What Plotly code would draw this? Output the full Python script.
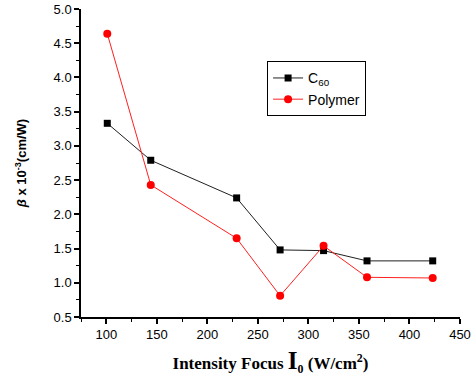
import plotly.graph_objects as go

intensity = [101, 144, 229, 272, 315, 358, 423]
c60 = [3.33, 2.79, 2.24, 1.48, 1.47, 1.32, 1.32]
polymer = [4.64, 2.43, 1.65, 0.81, 1.54, 1.08, 1.07]

x_ticks = [100, 150, 200, 250, 300, 350, 400, 450]
y_ticks = [0.5, 1.0, 1.5, 2.0, 2.5, 3.0, 3.5, 4.0, 4.5, 5.0]

fig = go.Figure()
fig.add_trace(go.Scatter(
    x=intensity, y=c60, mode="lines+markers", name="C<sub>60</sub>",
    line=dict(color="#202020", width=1),
    marker=dict(symbol="square", size=7, color="black"),
))
fig.add_trace(go.Scatter(
    x=intensity, y=polymer, mode="lines+markers", name="Polymer",
    line=dict(color="#ff2020", width=1),
    marker=dict(symbol="circle", size=8, color="#ff0000"),
))

fig.update_layout(
    width=472, height=385,
    margin=dict(l=81, r=12, t=9, b=68, autoexpand=False),
    paper_bgcolor="white", plot_bgcolor="white",
    font=dict(family="Liberation Sans, Arial", size=13, color="black"),
    showlegend=True,
    legend=dict(
        x=0.491, y=0.83, xanchor="left", yanchor="top",
        bordercolor="black", borderwidth=1, bgcolor="white",
        font=dict(family="Liberation Sans, Arial", size=14, color="black"),
        tracegroupgap=0, itemwidth=30,
    ),
    xaxis=dict(
        range=[75, 450], tickvals=x_ticks, ticktext=[str(v) for v in x_ticks],
        showgrid=False, zeroline=False, automargin=False,
        showline=True, linecolor="black", linewidth=1.5,
        ticks="outside", ticklen=5, tickwidth=1.5, tickcolor="black",
        minor=dict(dtick=25, tick0=75, ticks="outside", ticklen=3, tickwidth=1, tickcolor="black"),
        tickfont=dict(size=13), ticklabeloverflow="allow",
        title=dict(
            text="<b>Intensity Focus <span style='font-size:25px'>I</span><sub>0</sub> (W/cm<sup>2</sup>)</b>",
            font=dict(family="Liberation Serif, Times New Roman", size=17, color="black"),
            standoff=16,
        ),
    ),
    yaxis=dict(
        range=[0.5, 5.0], tickvals=y_ticks, ticktext=[f"{v:.1f}" for v in y_ticks],
        showgrid=False, zeroline=False, automargin=False,
        showline=True, linecolor="black", linewidth=1.5,
        ticks="outside", ticklen=5, tickwidth=1.5, tickcolor="black",
        minor=dict(dtick=0.25, tick0=0.5, ticks="outside", ticklen=3, tickwidth=1, tickcolor="black"),
        tickfont=dict(size=13),
        title=dict(
            text="<b><i>β</i> x 10<sup>-3</sup>(cm/W)</b>",
            font=dict(family="Liberation Sans, Arial", size=13, color="black"),
            standoff=24,
        ),
    ),
)

fig.write_html("out.html")
